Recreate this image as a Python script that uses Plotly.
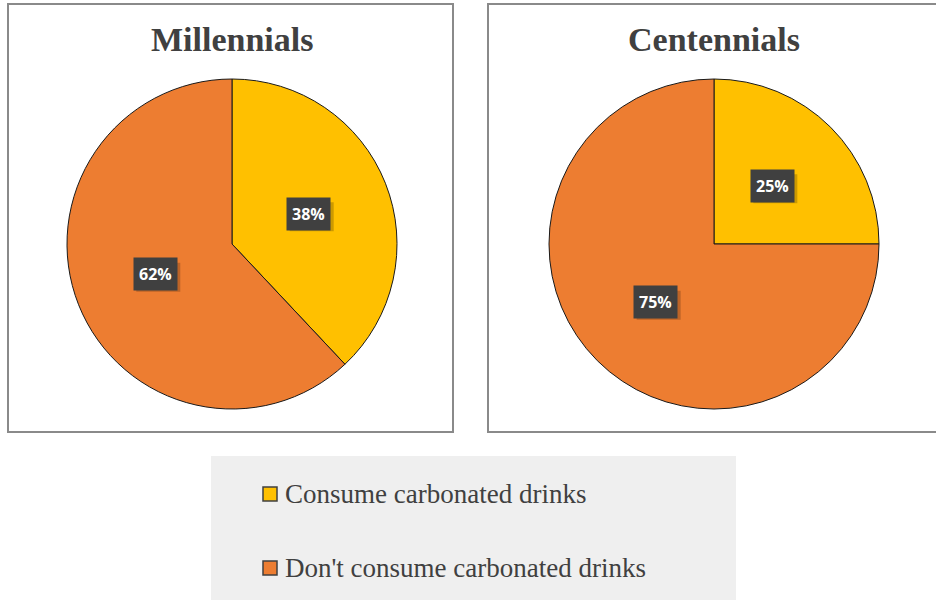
import math
import plotly.graph_objects as go

W, H = 936, 600

categories = ["Consume carbonated drinks", "Don't consume carbonated drinks"]
groups = ["Millennials", "Centennials"]
millennials = [38, 62]
centennials = [25, 75]
colors = ["#FFC000", "#ED7D31"]

series = [millennials, centennials]
centers = [(232, 244), (714, 244)]   # pie centres in px
R = 165

def px(x):
    return x / W

def py(y):
    return 1 - y / H

fig = go.Figure()
for i, (vals, (cx, cy)) in enumerate(zip(series, centers)):
    fig.add_trace(go.Pie(
        labels=categories, values=vals, sort=False, direction="clockwise", rotation=0,
        marker=dict(colors=colors, line=dict(color="#1a1a1a", width=1)),
        textinfo="none", hoverinfo="label+percent", showlegend=False,
        domain=dict(x=[px(cx - R), px(cx + R)], y=[py(cy + R), py(cy - R)]),
    ))

shapes = []
annotations = []

# panel boxes
shapes.append(dict(type="rect", xref="paper", yref="paper", x0=px(8), x1=px(453), y0=py(432), y1=py(4),
                   line=dict(color="#8a8a8a", width=2), layer="below"))
shapes.append(dict(type="rect", xref="paper", yref="paper", x0=px(488), x1=px(945), y0=py(432), y1=py(4),
                   line=dict(color="#8a8a8a", width=2), layer="below"))

# titles
for g, (cx, cy) in zip(groups, centers):
    annotations.append(dict(text=f"<b>{g}</b>", x=px(cx), y=py(40), xref="paper", yref="paper",
                            xanchor="center", yanchor="middle", showarrow=False,
                            font=dict(family="Liberation Serif", size=34, color="#404040")))

# data labels
BW, BH = 44, 29
for vals, (cx, cy) in zip(series, centers):
    total = sum(vals)
    cum = 0
    for v in vals:
        mid = (cum + v / 2) / total
        cum += v
        th = 2 * math.pi * mid
        lx = cx + 0.5 * R * math.sin(th)
        ly = cy - 0.5 * R * math.cos(th)
        label = f"<b>{round(100 * v / total)}%</b>"
        # soft drop shadow
        shapes.append(dict(type="rect", xref="paper", yref="paper",
                           x0=px(lx - BW / 2 + 3), x1=px(lx + BW / 2 + 3),
                           y0=py(ly + BH / 2 + 3), y1=py(ly - BH / 2 + 3),
                           fillcolor="rgba(0,0,0,0.2)", line=dict(width=0), layer="above"))
        annotations.append(dict(text=label, x=px(lx), y=py(ly), xref="paper", yref="paper",
                                xanchor="center", yanchor="middle",
                                showarrow=False, bgcolor="#404040", borderpad=5,
                                font=dict(family="Open Sans", size=16, color="white")))

# legend box
shapes.append(dict(type="rect", xref="paper", yref="paper", x0=px(211), x1=px(736), y0=py(600), y1=py(456),
                   line=dict(width=0), fillcolor="#efefef", layer="below"))
rows = [494, 568]
for cat, col, ry in zip(categories, colors, rows):
    shapes.append(dict(type="rect", xref="paper", yref="paper", x0=px(263), x1=px(277),
                       y0=py(ry + 7), y1=py(ry - 7), fillcolor=col, line=dict(color="#404040", width=1.5)))
    annotations.append(dict(text=cat, x=px(283), y=py(ry), xref="paper", yref="paper",
                            xanchor="left", yanchor="middle", showarrow=False,
                            font=dict(family="Liberation Serif", size=27, color="#404040")))

fig.update_layout(width=W, height=H, margin=dict(l=0, r=0, t=0, b=0),
                  paper_bgcolor="white", plot_bgcolor="white",
                  shapes=shapes, annotations=annotations, showlegend=False)

fig.write_html("out.html")
